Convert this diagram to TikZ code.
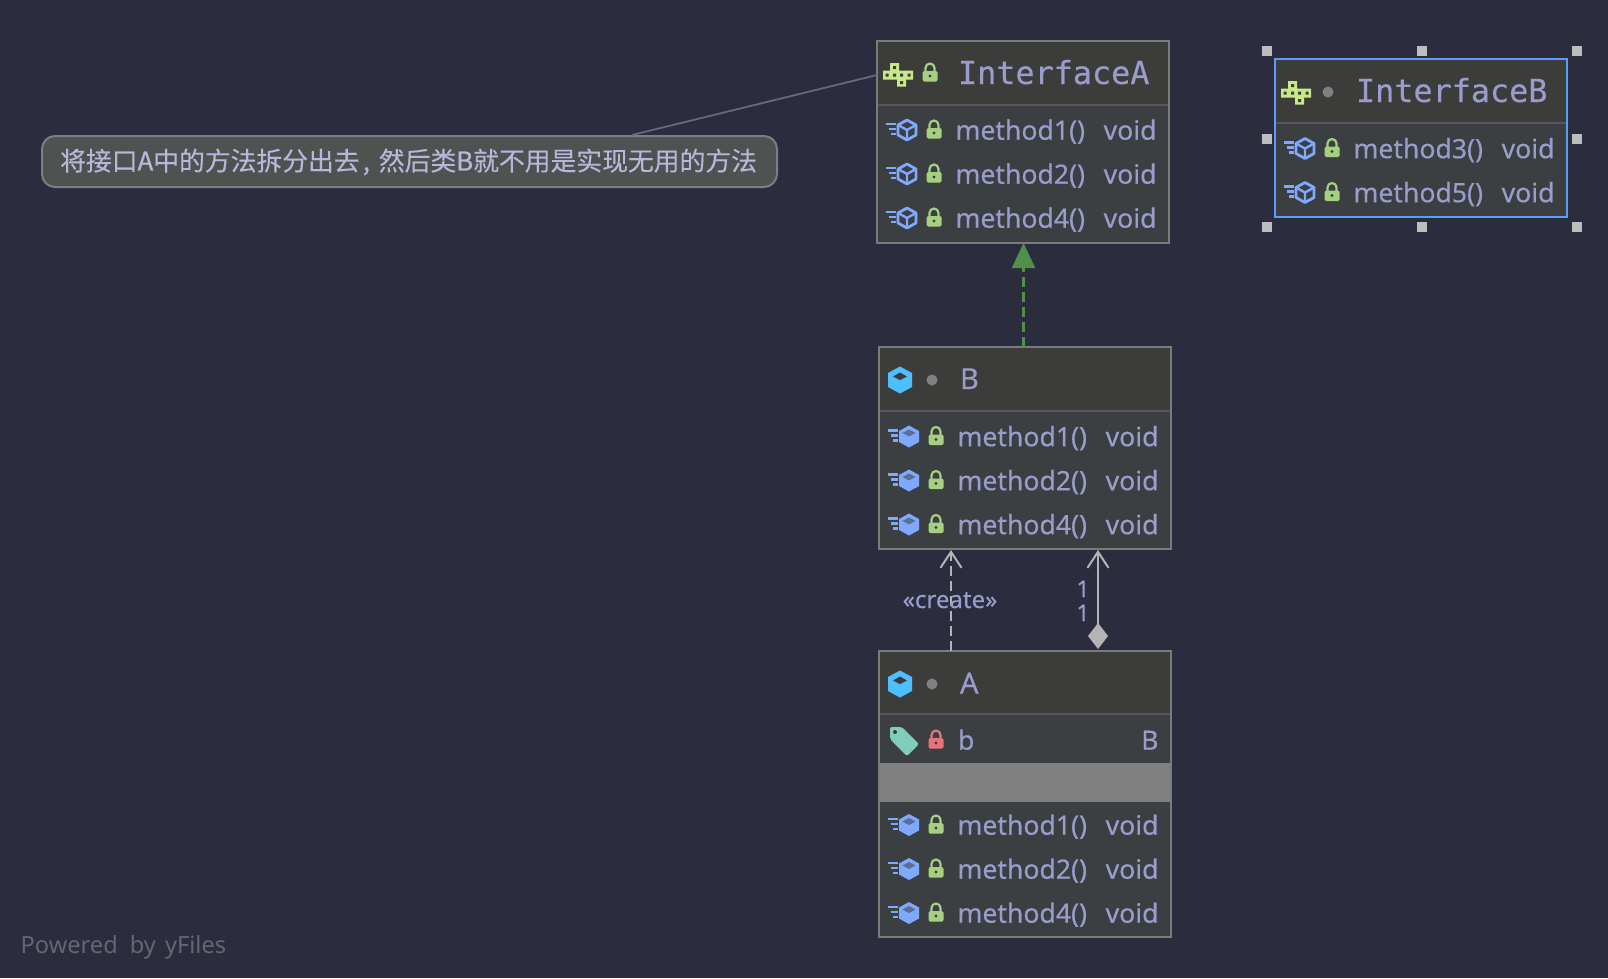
\documentclass[tikz,border=0pt]{standalone}
\usepackage{fontspec}
\setmainfont[FakeBold=0.35]{Noto Sans}
\newfontfamily\monof[FakeBold=0.3]{DejaVu Sans Mono}
\newfontfamily\cjkf[FakeBold=0.25]{Noto Sans CJK SC}
\newfontfamily\cjkb[FakeBold=0.9]{Noto Sans CJK SC}
\newfontfamily\powf{Noto Sans}
\usetikzlibrary{arrows.meta}
\definecolor{bgc}{HTML}{2B2D3E}
\definecolor{headc}{HTML}{3C3C3B}
\definecolor{bodyc}{HTML}{3C3F41}
\definecolor{edgec}{HTML}{7B7B7B}
\definecolor{sepc}{HTML}{55575A}
\definecolor{txtc}{HTML}{9A9DCC}
\definecolor{lockg}{HTML}{A5D07F}
\definecolor{lockr}{HTML}{E8737A}
\definecolor{cubec}{HTML}{7FA8FF}
\definecolor{classc}{HTML}{4DBFFF}
\definecolor{ifacec}{HTML}{C8E88A}
\definecolor{tagc}{HTML}{7FCDBB}
\definecolor{grayd}{HTML}{808080}
\definecolor{linec}{HTML}{B4B4B4}
\definecolor{greenl}{HTML}{528F48}
\definecolor{selc}{HTML}{589DF6}
\definecolor{handlec}{HTML}{BDBDBD}
\definecolor{notef}{HTML}{4F5251}
\definecolor{notee}{HTML}{7B7E85}
\definecolor{notet}{HTML}{B5B8D8}
\definecolor{notel}{HTML}{666979}
\definecolor{powc}{HTML}{646672}
\tikzset{
  x=1pt,y=-1pt,
  umlbox/.style={draw=edgec,line width=2pt,fill=bodyc,anchor=north west,minimum width=#1,inner sep=0pt,outer sep=0pt},
  sepline/.style={sepc,line width=2pt},
  mtext/.style={text=txtc,anchor=base west,inner sep=0pt,outer sep=0pt,font=\fontsize{26.6}{28}\selectfont},
  rtext/.style={text=txtc,anchor=base east,inner sep=0pt,outer sep=0pt,font=\fontsize{26.6}{28}\selectfont},
  ttext/.style={text=txtc,anchor=base west,inner sep=0pt,outer sep=0pt,font=\fontsize{29}{30}\selectfont},
  montitle/.style={text=txtc,anchor=base west,inner sep=0pt,outer sep=0pt,font=\monof\fontsize{31.8}{32}\selectfont},
  handle/.style={fill=handlec,draw=none,minimum size=10pt,inner sep=0pt,outer sep=0pt},
  connbarb/.style={linec,line width=2pt,-{Straight Barb[length=16pt,width=21pt,line width=2pt]}},
}
\newcommand{\lockicon}[3]{%
  \begin{scope}[shift={(#1,#2)}]
    \draw[#3,line width=2.2pt] (-4.5,-2) -- (-4.5,-6) arc[start angle=180,end angle=0,x radius=4.5,y radius=-4.5] -- (4.5,-2);
    \fill[#3,rounded corners=1.5pt] (-7.5,-3) rectangle (7.5,7.5);
    \fill[bodyc] (0,2) circle (1.6);
  \end{scope}}
\newcommand{\hexshape}{(0,-10) -- (9,-5) -- (9,5) -- (0,10) -- (-9,5) -- (-9,-5) -- cycle}
\newcommand{\hatchicon}[2]{%
  \draw[cubec,line width=2.2pt] (#1-21,#2-6) -- ++(10,0) (#1-18.5,#2-1) -- ++(7.5,0) (#1-16,#2+4) -- ++(5,0);}
\newcommand{\cubeoutline}[2]{%
  \begin{scope}[shift={(#1,#2)}]
    \draw[cubec,line width=2.8pt,line join=round] \hexshape;
    \draw[cubec,line width=2.4pt] (-9,-5) -- (0,0) -- (9,-5) (0,0) -- (0,10);
  \end{scope}\hatchicon{#1}{#2}}
\newcommand{\cubefilled}[2]{%
  \begin{scope}[shift={(#1,#2)}]
    \fill[cubec] (0,-11) -- (10,-5.5) -- (10,5.5) -- (0,11) -- (-10,5.5) -- (-10,-5.5) -- cycle;
    \fill[bodyc!55!cubec] (0,-7) -- (6.5,-3.5) -- (0,0) -- (-6.5,-3.5) -- cycle;
  \end{scope}\hatchicon{#1}{#2}}
\newcommand{\ifaceicon}[2]{%
  \begin{scope}[shift={(#1,#2)}]
    \fill[ifacec] (-15,-3.5) rectangle (15,5.5) (-8,-11) rectangle (1,-3) (-1,5) rectangle (8,12.5);
    \fill[headc] (-12.5,-0.5) rectangle (-9.5,2.5) (-5,-0.5) rectangle (-2,2.5) (2,-0.5) rectangle (5,2.5) (9.5,-0.5) rectangle (12.5,2.5) (-5,-8) rectangle (-2,-5) (2,7) rectangle (5,10);
  \end{scope}}
\newcommand{\classicon}[2]{%
  \begin{scope}[shift={(#1,#2)}]
    \fill[classc] (0,-13.5) -- (12,-7) -- (12,7) -- (0,13.5) -- (-12,7) -- (-12,-7) -- cycle;
    \fill[headc] (0,-7.5) -- (7,-3.5) -- (0,0) -- (-7,-3.5) -- cycle;
  \end{scope}}
\newcommand{\graydot}[2]{\fill[grayd] (#1,#2) circle (5.5);}
\newcommand{\tagicon}[2]{%
  \begin{scope}[shift={(#1,#2)}]
    \fill[tagc,rounded corners=2pt] (-14,-14) -- (-2,-14) -- (15,3) -- (3,15) -- (-14,-2) -- cycle;
    \fill[bodyc] (-9,-9) circle (2);
  \end{scope}}
\newcommand{\mrow}[5]{%
  #5{#2+30}{#3-9}
  \lockicon{#2+57}{#3-8}{lockg}
  \node[mtext] (#1m) at (#2+78.5,#3+0.7) {#4};
  \node[rtext] (#1v) at (#2+279.5,#3+0.7) {void};}
\begin{document}
\begin{tikzpicture}
\useasboundingbox (0,0) rectangle (1608,978);
\fill[bgc] (0,0) rectangle (1608,978);

% note
\node[draw=notee,fill=notef,line width=2pt,rounded corners=13pt,anchor=north west,minimum width=735pt,minimum height=51pt,inner sep=0pt,outer sep=0pt] (note) at (42,136) {};
\node[text=notet,anchor=west,inner sep=0pt,font=\cjkf\fontsize{25.8}{28}\selectfont] (notetxt) at (60,162) {将接口{\cjkb A}中的方法拆分出去\hspace{3pt}{\cjkb ,}\hspace{9pt}然后类{\cjkb B}就不用是实现无用的方法};

% InterfaceA
\node[umlbox=292pt,minimum height=202pt] (ia) at (877,41) {};
\fill[headc] (878,42) rectangle (1168,105);
\draw[sepline] (878,105) -- (1168,105);
\ifaceicon{898}{74}
\lockicon{930}{74}{lockg}
\node[montitle] (iat) at (958,84) {InterfaceA};
\mrow{ia1}{877}{139}{method1()}{\cubeoutline}
\mrow{ia2}{877}{183}{method2()}{\cubeoutline}
\mrow{ia3}{877}{227}{method4()}{\cubeoutline}

% InterfaceB
\node[handle] (h1) at (1267,51) {};
\node[handle] (h2) at (1422,51) {};
\node[handle] (h3) at (1577,51) {};
\node[handle] (h4) at (1267,139) {};
\node[handle] (h5) at (1577,139) {};
\node[handle] (h6) at (1267,227) {};
\node[handle] (h7) at (1422,227) {};
\node[handle] (h8) at (1577,227) {};
\node[umlbox=292pt,minimum height=158pt,draw=selc] (ib) at (1275,59) {};
\fill[headc] (1276,60) rectangle (1566,123);
\draw[sepline] (1276,123) -- (1566,123);
\ifaceicon{1296}{92}
\graydot{1328}{92}
\node[montitle] (ibt) at (1356,102) {InterfaceB};
\mrow{ib1}{1275}{157.5}{method3()}{\cubeoutline}
\mrow{ib2}{1275}{201.5}{method5()}{\cubeoutline}

% B
\node[umlbox=292pt,minimum height=202pt] (b) at (879,347) {};
\fill[headc] (880,348) rectangle (1170,411);
\draw[sepline] (880,411) -- (1170,411);
\classicon{900}{380}
\graydot{932}{380}
\node[ttext] (bt) at (960,389) {B};
\mrow{b1}{879}{445.5}{method1()}{\cubefilled}
\mrow{b2}{879}{489.5}{method2()}{\cubefilled}
\mrow{b3}{879}{533.5}{method4()}{\cubefilled}

% A
\node[umlbox=292pt,minimum height=286pt] (a) at (879,651) {};
\fill[headc] (880,652) rectangle (1170,714);
\draw[sepline] (880,714) -- (1170,714);
\fill[grayd] (880,763) rectangle (1170,802);
\classicon{900}{684}
\graydot{932}{684}
\node[ttext] (at) at (960,693.5) {A};
\tagicon{904}{741}
\lockicon{936}{741}{lockr}
\node[mtext] (af) at (958,749.7) {b};
\node[rtext] (ar) at (1158.5,749.7) {B};
\mrow{a1}{879}{834}{method1()}{\cubefilled}
\mrow{a2}{879}{878}{method2()}{\cubefilled}
\mrow{a3}{879}{922}{method4()}{\cubefilled}

% connectors
\coordinate (n1) at (632,135);
\draw[notel,line width=1.8pt] (n1) -- (ia.west |- 0,75);
\coordinate (c1a) at (1023.5,347);
\coordinate (c1b) at (1023.5,243);
\draw[greenl,line width=2.2pt,dash pattern=on 10pt off 5pt,-{Triangle[length=25pt,width=23pt,fill=greenl]}] (c1a) -- (c1b);
\coordinate (c2a) at (951,651);
\coordinate (c2b) at (951,550);
\draw[connbarb,dash pattern=on 10pt off 5pt] (c2a) -- (c2b);
\coordinate (c3a) at (1098,649);
\coordinate (c3b) at (1098,550);
\draw[linec,line width=2pt,{Diamond[length=26pt,width=20pt,fill=linec]}-{Straight Barb[length=16pt,width=21pt,line width=2pt]}] (c3a) -- (c3b);
\node[text=txtc,inner sep=0pt,anchor=base,font=\fontsize{24}{25}\selectfont] (cr) at (950,608) {«create»};
\node[text=txtc,inner sep=0pt,anchor=base,font=\fontsize{23}{24}\selectfont] (o1) at (1083,597) {1};
\node[text=txtc,inner sep=0pt,anchor=base,font=\fontsize{23}{24}\selectfont] (o2) at (1083,621) {1};

\node[text=powc,anchor=base west,inner sep=0pt,font=\powf\fontsize{23.6}{24}\selectfont] (pow) at (20.5,953) {Powered\hspace{6pt} by\hspace{3pt} yFiles};
\end{tikzpicture}
\end{document}
